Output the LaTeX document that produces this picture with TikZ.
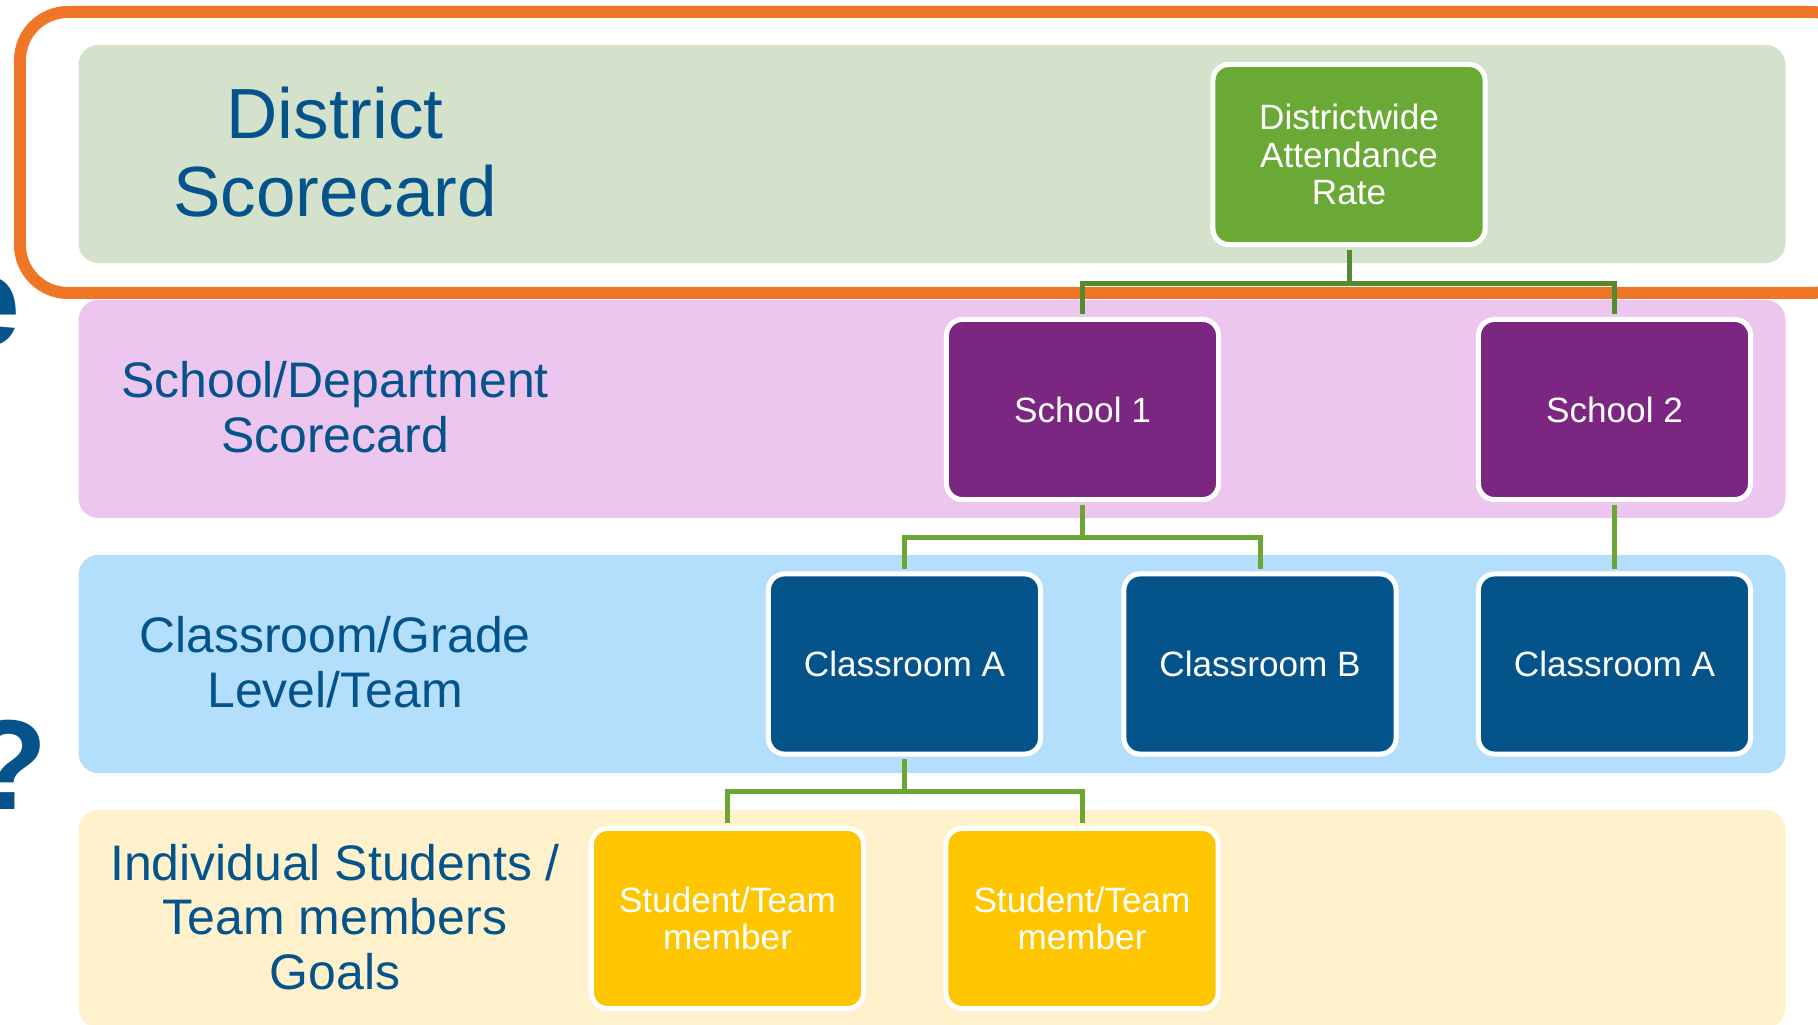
\documentclass[tikz,border=0pt]{standalone}
\usepackage{fontspec}
\setmainfont{Liberation Sans}
\usepackage{tikz}
\usepackage{xcolor}
\definecolor{frame-orange}{HTML}{EF7626}
\definecolor{band-green}{HTML}{D4E2CC}
\definecolor{band-pink}{HTML}{ECC6EE}
\definecolor{band-blue}{HTML}{B3DFFC}
\definecolor{band-yellow}{HTML}{FEF1CC}
\definecolor{box-green}{HTML}{6AA935}
\definecolor{box-purple}{HTML}{7B2680}
\definecolor{box-blue}{HTML}{04538A}
\definecolor{box-yellow}{HTML}{FEC600}
\definecolor{title-blue}{HTML}{04538B}
\definecolor{link-green}{HTML}{6AA535}
\definecolor{link-dark}{HTML}{558B2F}
\tikzset{
    band/.style = {rectangle, rounded corners=0.2cm, minimum width=17.06cm, minimum height=2.18cm, inner sep=0pt},
    band-label/.style = {text=title-blue, align=center, inner sep=0pt, font=\fontsize{14.2}{15.5}\selectfont},
    org-box/.style = {draw=white, line width=1.42pt, rectangle, rounded corners=0.16cm, minimum width=2.72cm, minimum height=1.80cm, inner sep=0pt, text=white, align=center, font=\fontsize{10}{10.7}\selectfont},
    link/.style = {draw=link-green, line width=1.42pt, shorten <=0.7pt, shorten >=0.7pt},
}

\begin{document}
\begin{tikzpicture}[x=0.01cm, y=-0.01cm]
\useasboundingbox (0,0) rectangle (1818,1025);
\clip (0,0) rectangle (1818,1025);
% bits of the slide title behind
\node[text=title-blue, font=\bfseries\fontsize{36.4}{36.4}\selectfont, anchor=base east, inner sep=0pt] (title-e) at (21,346) {e};
\node[text=title-blue, font=\bfseries\fontsize{36.4}{36.4}\selectfont, anchor=base east, inner sep=0pt] (title-q) at (48,809) {?};
% levels
\node[band, fill=band-green] (band-district) at (932,154) {};
\node[band, fill=band-pink] (band-school) at (932,409) {};
\node[band, fill=band-blue] (band-class) at (932,664) {};
\node[band, fill=band-yellow] (band-student) at (932,919) {};
\draw[frame-orange, line width=3.41pt, rounded corners=0.48cm] (20,12) rectangle (1860,293);
\node[band-label, font=\fontsize{20.2}{22.2}\selectfont] (lbl-district) at (335,152) {District\\Scorecard};
\node[band-label] (lbl-school) at (335,407) {School/Department\\Scorecard};
\node[band-label] (lbl-class) at (335,662) {Classroom/Grade\\Level/Team};
\node[band-label] (lbl-student) at (335,917) {Individual Students /\\Team members\\Goals};
% boxes
\node[org-box, fill=box-green] (district) at (1349,154.5) {Districtwide\\Attendance\\Rate};
\node[org-box, fill=box-purple] (school1) at (1082.5,409.5) {School 1};
\node[org-box, fill=box-purple] (school2) at (1614.5,409.5) {School 2};
\node[org-box, fill=box-blue] (class1a) at (904.5,664) {Classroom A};
\node[org-box, fill=box-blue] (class1b) at (1260,664) {Classroom B};
\node[org-box, fill=box-blue] (class2a) at (1614.5,664) {Classroom A};
\node[org-box, fill=box-yellow] (student1) at (727.5,918.5) {Student/Team\\member};
\node[org-box, fill=box-yellow] (student2) at (1082,918.5) {Student/Team\\member};
% connectors
\draw[link, draw=link-dark] (district.south) -- ++(0,36) -| (school1.north);
\draw[link, draw=link-dark] (district.south) -- ++(0,36) -| (school2.north);
\draw[link] (school1.south) -- ++(0,35) -| (class1a.north);
\draw[link] (school1.south) -- ++(0,35) -| (class1b.north);
\draw[link] (school2.south) -- (class2a.north);
\draw[link] (class1a.south) -- ++(0,35) -| (student1.north);
\draw[link] (class1a.south) -- ++(0,35) -| (student2.north);
\end{tikzpicture}
\end{document}
